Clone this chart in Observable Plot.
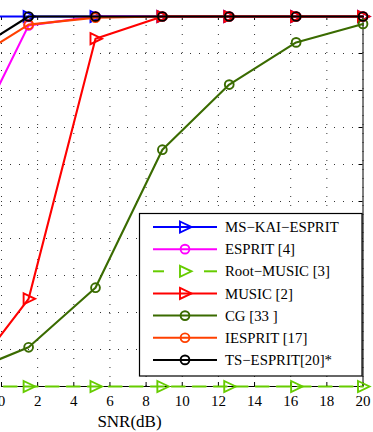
<!DOCTYPE html>
<html><head><meta charset="utf-8">
<script src="https://cdn.jsdelivr.net/npm/d3@7"></script>
<script src="https://cdn.jsdelivr.net/npm/@observablehq/plot@0.6"></script>
<style>
html,body{margin:0;padding:0;background:#fff;}
#wrap{width:373px;height:432px;overflow:hidden;position:relative;}
</style></head><body><div id="wrap"></div>
<script>
// SNR sample positions (dB); first point lies left of the visible region
const snr = [-2.2, 1.5, 5.2, 8.9, 12.6, 16.3, 20];
const msKaiEsprit = [1, 1, 1, 1, 1, 1, 1];
const esprit = [0.61, 0.976, 1, 1, 1, 1, 1];
const rootMusic = [0, 0, 0, 0, 0, 0, 0];
const music = [0.0, 0.237, 0.94, 1, 1, 1, 1];
const cg = [0.032, 0.106, 0.267, 0.64, 0.816, 0.93, 0.98];
const iesprit = [0.865, 0.978, 0.997, 1, 1, 1, 1];
const tsEsprit = [0.886, 1, 1, 1, 1, 1, 1];

const seriesNames = ["MS\u2212KAI\u2212ESPRIT", "ESPRIT [4]", "Root\u2212MUSIC [3]", "MUSIC [2]", "CG [33 ]", "IESPRIT [17]", "TS\u2212ESPRIT[20]*"];
const seriesValues = [msKaiEsprit, esprit, rootMusic, music, cg, iesprit, tsEsprit];
const seriesColors = ["#0000ff", "#ff00ff", "#66cc00", "#ff0000", "#3a6b00", "#ff4000", "#000000"];
const seriesMarkers = ["triangle", "circle", "triangle", "triangle", "circle", "circle", "circle"];
const seriesDashed = [false, false, true, false, false, false, false];

const xTicks = [0, 2, 4, 6, 8, 10, 12, 14, 16, 18, 20];
const yTicks = [0, 0.1, 0.2, 0.3, 0.4, 0.5, 0.6, 0.7, 0.8, 0.9, 1];
const xLabel = "SNR(dB)";

const FONT = "'Liberation Serif', serif";

const triangleRight = {
  draw(ctx, size) {
    const r = Math.sqrt(size / Math.PI);
    ctx.moveTo(-r, -1.1 * r);
    ctx.lineTo(1.3 * r, 0);
    ctx.lineTo(-r, 1.1 * r);
    ctx.closePath();
  }
};

const W = 373, H = 432, mL = 1, mR = 10.5, mT = 16, mB = 46;
const frameW = W - mL - mR, frameH = H - mT - mB;

const marks = [
  Plot.ruleX(xTicks, {x: d => d, stroke: "#000", strokeOpacity: 0.8, strokeDasharray: "1,8"}),
  Plot.ruleY(yTicks, {y: d => d, stroke: "#000", strokeOpacity: 0.8, strokeDasharray: "1,8"}),
  Plot.ruleY([0, 1], {stroke: "#000", strokeWidth: 1}),
  Plot.ruleX([20], {stroke: "#000", strokeWidth: 1}),
  Plot.tickX(xTicks, {x: d => d, insetTop: frameH - 4, stroke: "#000"}),
  Plot.tickX(xTicks, {x: d => d, insetBottom: frameH - 4, stroke: "#000"}),
  Plot.tickY(yTicks, {y: d => d, insetLeft: frameW - 4, stroke: "#000"}),
  Plot.text(xTicks, {x: d => d, frameAnchor: "bottom", lineAnchor: "bottom", dy: 19.8, text: d => String(d), fontSize: 15, fill: "#000"}),
  Plot.text([xLabel], {frameAnchor: "bottom-left", dx: 128, dy: 40.8, lineAnchor: "bottom", textAnchor: "middle", text: d => d, fontSize: 17, fill: "#000"})
];

seriesValues.forEach((vals, i) => {
  const rows = snr.map((s, j) => ({x: s, y: vals[j]}));
  marks.push(Plot.line(rows, {x: "x", y: "y", stroke: seriesColors[i], strokeWidth: 2.1,
    strokeDasharray: seriesDashed[i] ? "13,8" : null, strokeLinejoin: "round"}));
  marks.push(Plot.dot(rows, {x: "x", y: "y", stroke: seriesColors[i], fill: "none", strokeWidth: 1.9,
    r: seriesMarkers[i] === "circle" ? 4.4 : 5,
    symbol: seriesMarkers[i] === "circle" ? "circle" : triangleRight}));
});

const svg = Plot.plot({
  width: W, height: H,
  marginLeft: mL, marginRight: mR, marginTop: mT, marginBottom: mB,
  x: {domain: [0, 20], axis: null},
  y: {domain: [0, 1], axis: null},
  style: {fontFamily: FONT, background: "#fff", overflow: "hidden"},
  marks
});

// Legend box
const g = d3.select(svg).append("g").attr("font-family", FONT).attr("text-anchor", "start");
g.append("rect").attr("x", 139.5).attr("y", 213.5).attr("width", 222.5).attr("height", 162.5)
  .attr("fill", "#fff").attr("stroke", "#000").attr("stroke-width", 1.2);
seriesNames.forEach((name, i) => {
  const y = 227 + i * 22.15;
  const c = seriesColors[i];
  if (seriesDashed[i]) {
    g.append("line").attr("x1", 153).attr("x2", 164).attr("y1", y).attr("y2", y).attr("stroke", c).attr("stroke-width", 2);
    g.append("line").attr("x1", 204).attr("x2", 217).attr("y1", y).attr("y2", y).attr("stroke", c).attr("stroke-width", 2);
  } else {
    g.append("line").attr("x1", 153).attr("x2", 217).attr("y1", y).attr("y2", y).attr("stroke", c).attr("stroke-width", 2);
  }
  if (seriesMarkers[i] === "circle") {
    g.append("circle").attr("cx", 185).attr("cy", y).attr("r", 4.4).attr("fill", "none").attr("stroke", c).attr("stroke-width", 1.9);
  } else {
    g.append("path").attr("transform", `translate(185,${y})`)
      .attr("d", d3.symbol(triangleRight, Math.PI * 25)()).attr("fill", "none").attr("stroke", c).attr("stroke-width", 1.9);
  }
  g.append("text").attr("x", 225).attr("y", y).attr("dy", "0.35em").attr("text-anchor", "start")
    .attr("font-size", 14.8).attr("fill", "#000").text(name);
});

document.getElementById("wrap").appendChild(svg);
</script></body></html>
